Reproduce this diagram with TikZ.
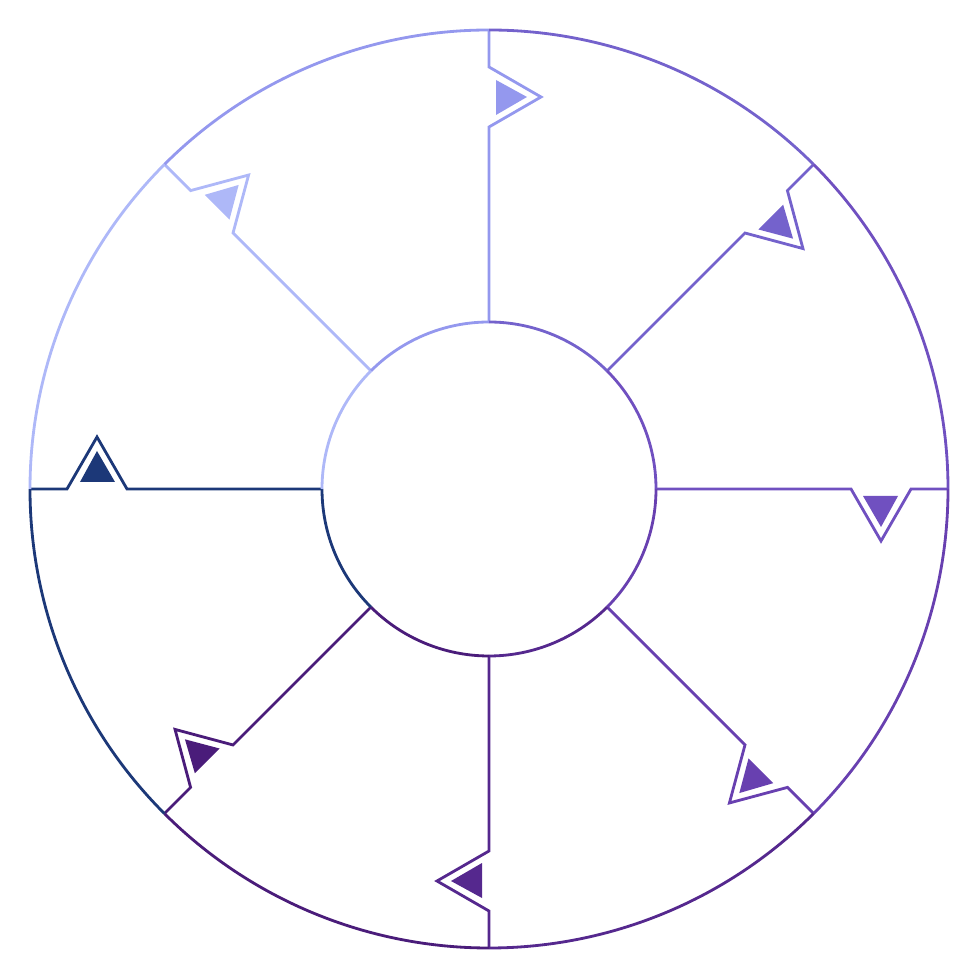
\documentclass[tikz,border=0pt]{standalone}
\usepackage{tikz}

\definecolor{cA}{HTML}{9498EE}
\definecolor{cB}{HTML}{7462CC}
\definecolor{cC}{HTML}{7050C0}
\definecolor{cD}{HTML}{6840B0}
\definecolor{cE}{HTML}{55288E}
\definecolor{cF}{HTML}{4A1C7A}
\definecolor{cG}{HTML}{1C3878}
\definecolor{cH}{HTML}{AEB8F8}

\begin{document}
\begin{tikzpicture}[x=0.01cm,y=0.01cm,line width=0.8pt]

\useasboundingbox (-489,-491) rectangle (491,489);

\coordinate (c) at (0,0);

% spokes with notches
\foreach \a/\col in {90/cA,45/cB,0/cC,-45/cD,-90/cE,-135/cF,180/cG,135/cH}
{
  \begin{scope}[rotate=\a]
    \draw [\col, line join=miter] (167,0) -- (362,0) -- (392,-52) -- (422,0) -- (459,0);
    \fill [\col] (374,-7) -- (409,-7) -- (392,-38) -- cycle;
  \end{scope}
}

% outer and inner rims
\foreach \a/\col in {90/cA,45/cB,0/cC,-45/cD,-90/cE,-135/cF,180/cG,135/cH}
{
  \draw [\col] (c) ++(\a:459) arc (\a:\a+45:459);
  \draw [\col] (c) ++(\a:167) arc (\a:\a+45:167);
}

\end{tikzpicture}
\end{document}
